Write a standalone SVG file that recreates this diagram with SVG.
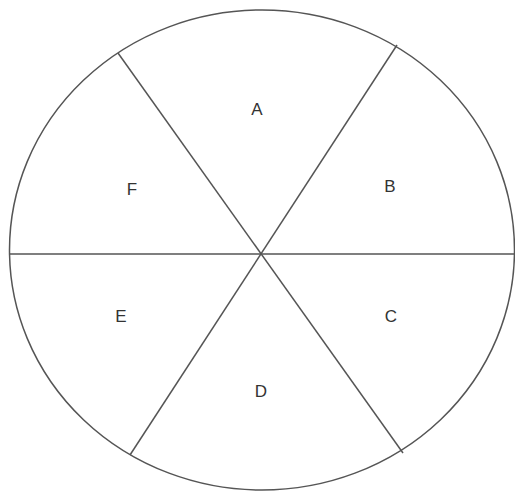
<svg xmlns="http://www.w3.org/2000/svg" width="515" height="492" viewBox="0 0 515 492">
<style>
.s{fill:none;stroke:#555;stroke-width:1.5}
.t{font-family:"Liberation Sans",Arial,sans-serif;font-size:17px;fill:#333;text-anchor:middle}
</style>
<rect width="515" height="492" fill="#fff"/>
<g id="circle"><ellipse class="s" cx="262" cy="250" rx="252.5" ry="240"/></g>
<g id="connectors">
<line class="s" x1="9.5" y1="254" x2="514" y2="254"/>
<line class="s" x1="118" y1="53" x2="403" y2="453"/>
<line class="s" x1="397" y1="45" x2="130" y2="455"/>
</g>
<g id="A"><text class="t" x="257" y="115">A</text></g>
<g id="B"><text class="t" x="390" y="192">B</text></g>
<g id="C"><text class="t" x="391" y="322">C</text></g>
<g id="D"><text class="t" x="261" y="397">D</text></g>
<g id="E"><text class="t" x="121" y="322">E</text></g>
<g id="F"><text class="t" x="132" y="195">F</text></g>
</svg>
